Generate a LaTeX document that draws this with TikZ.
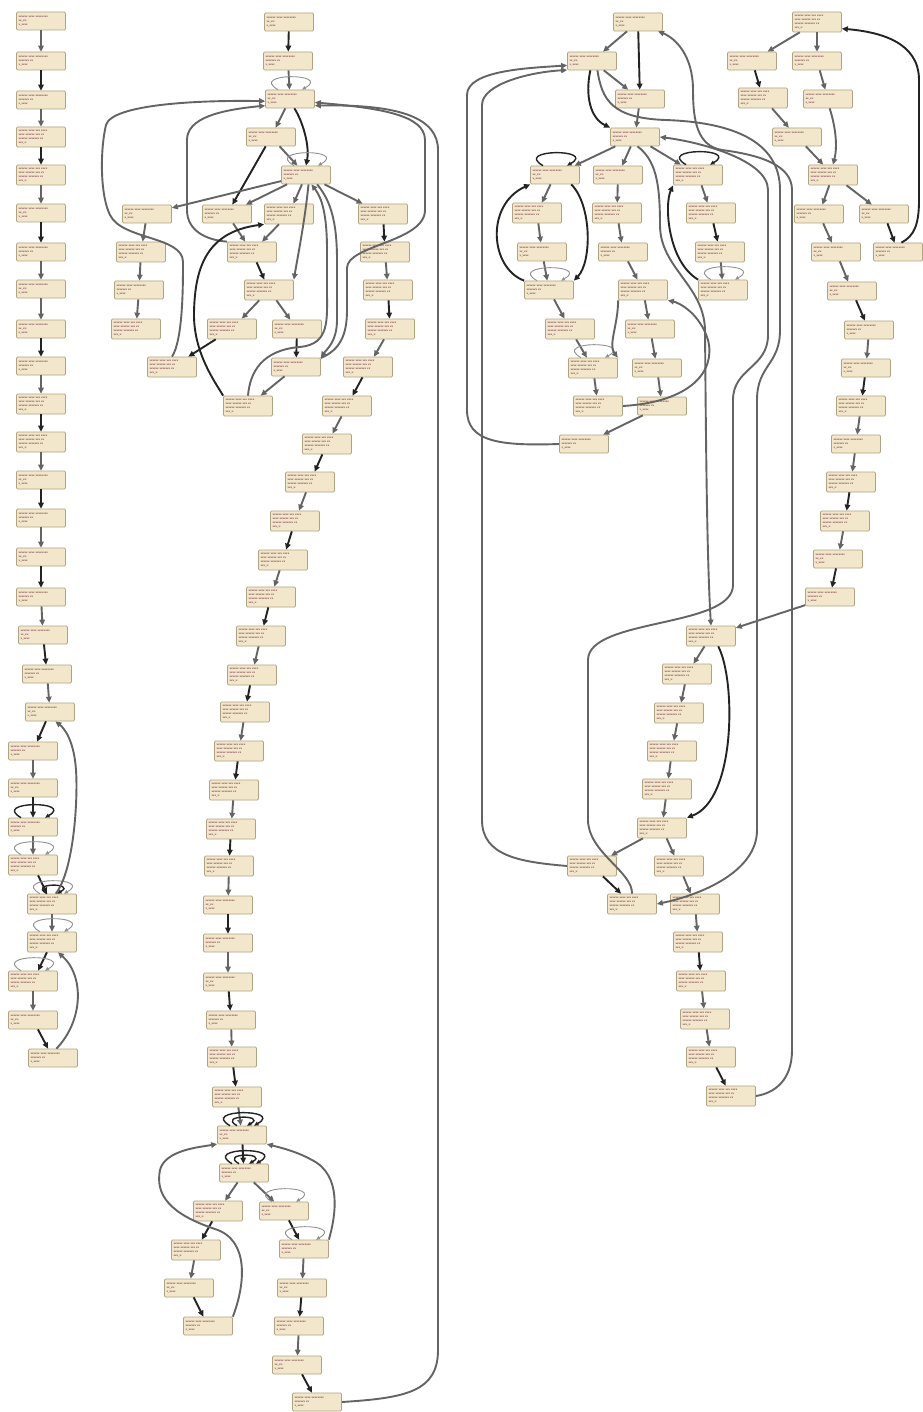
\documentclass[tikz,border=0pt]{standalone}
\usetikzlibrary{arrows.meta}
\definecolor{nfill}{RGB}{242,231,202}
\definecolor{ndraw}{RGB}{175,163,130}
\definecolor{ntxt}{RGB}{95,18,48}
\definecolor{ekc}{RGB}{35,35,35}
\definecolor{egc}{RGB}{100,100,100}
\definecolor{elc}{RGB}{145,145,145}
\newcommand\txa{\textbf{xxxxxx xxxx xxxxxxxx}\\xx\_xx:\\x\_xxxx}
\newcommand\txb{\textbf{xxxxxx xxxx xxxxxxxx}\\xxxxxxx xx\\x\_xxxx}
\newcommand\txc{\textbf{xxxxxx xxxx xxx xxxx}\\xxxx xxxxxx xxx xx\\xxxxxx xxxxxxx xx\\xxx\_x:}
\tikzset{
 blk/.style={draw=ndraw, fill=nfill, rounded corners=1.2pt, line width=0.7pt, minimum height=18pt, text width=45pt, inner xsep=2pt, inner ysep=1pt, align=left, text=ntxt, font=\fontsize{2.9}{3.9}\selectfont\ttfamily\bfseries},
 blkq/.style={blk, minimum height=20pt},
 ek/.style={draw=ekc, line width=1.9pt, -{Triangle[length=6pt,width=5.5pt]}},
 eg/.style={draw=egc, line width=1.9pt, -{Triangle[length=6pt,width=5.5pt]}},
 lpk/.style={draw=ekc, line width=1.4pt, -{Triangle[length=4.5pt,width=4pt]}},
 lpg/.style={draw=elc, line width=0.9pt, -{Triangle[length=4pt,width=3.5pt]}},
}
\newcommand\lpp[2]{\draw[#1] ([xshift=-12pt]#2.north) .. controls +(-30,-17) and +(30,-17) .. ([xshift=12pt]#2.north);}
\newcommand\lps[2]{\draw[#1] ([xshift=-5pt]#2.north) .. controls +(-20,-11) and +(20,-11) .. ([xshift=5pt]#2.north);}
\begin{document}
\begin{tikzpicture}[x=1pt,y=-1pt]
\fill[white] (0,0) rectangle (922,1412);
\useasboundingbox (0,0) rectangle (922,1412);
% ---------------- column 1
\node[blk] (c1) at (41,21) {\txa};
\node[blk] (c2) at (41,61) {\txb};
\node[blk] (c3) at (41,100) {\txb};
\node[blkq] (c4) at (41,137) {\txc};
\node[blkq] (c5) at (41,175) {\txc};
\node[blk] (c6) at (41,213) {\txa};
\node[blk] (c7) at (41,252) {\txb};
\node[blk] (c8) at (41,289) {\txa};
\node[blk] (c9) at (41,329) {\txa};
\node[blk] (c10) at (41,366) {\txb};
\node[blkq] (c11) at (41,404) {\txc};
\node[blkq] (c12) at (41,442) {\txc};
\node[blk] (c13) at (41,480) {\txa};
\node[blk] (c14) at (41,518) {\txb};
\node[blk] (c15) at (41,557) {\txa};
\node[blk] (c16) at (41,597) {\txb};
\node[blk] (c17) at (43,635) {\txa};
\node[blk] (c18) at (47,674) {\txb};
\node[blk] (c19) at (50,712) {\txa};
\node[blk] (c20) at (33,751) {\txb};
\node[blk] (c21) at (33,788) {\txa};
\node[blk] (c22) at (33,827) {\txb};
\node[blkq] (c23) at (33,865) {\txc};
\node[blkq] (c24) at (52,904) {\txc};
\node[blkq] (c25) at (52,942) {\txc};
\node[blkq] (c26) at (33,981) {\txc};
\node[blk] (c27) at (33,1020) {\txa};
\node[blk] (c28) at (53,1058) {\txb};
\draw[eg] (c1) -- (c2); \draw[ek] (c2) -- (c3); \draw[eg] (c3) -- (c4);
\draw[ek] (c4) -- (c5); \draw[eg] (c5) -- (c6); \draw[ek] (c6) -- (c7);
\draw[eg] (c7) -- (c8); \draw[eg] (c8) -- (c9); \draw[ek] (c9) -- (c10);
\draw[eg] (c10) -- (c11); \draw[ek] (c11) -- (c12); \draw[eg] (c12) -- (c13);
\draw[ek] (c13) -- (c14); \draw[eg] (c14) -- (c15); \draw[ek] (c15) -- (c16);
\draw[eg] (c16) -- (c17); \draw[ek] (c17) -- (c18); \draw[eg] (c18) -- (c19);
\draw[ek] (c19) -- (c20); \draw[eg] (c20) -- (c21); \draw[ek] (c21) -- (c22);
\draw[eg] (c22) -- (c23); \draw[ek] (c23) -- (c24); \draw[eg] (c24) -- (c25);
\draw[ek] (c25) -- (c26); \draw[eg] (c26) -- (c27); \draw[ek] (c27) -- (c28);
\lpp{lpk}{c22} \lpp{lpg}{c23} \lpp{lpg}{c24} \lps{lpk}{c24} \lpp{lpg}{c25} \lpp{lpg}{c26}
\draw[eg] (c24.70) .. controls (74,870) and (78,800) .. (76,770) .. controls (74,740) and (64,728) .. (c19.-60);
\draw[eg] (c28.70) .. controls (84,1020) and (84,975) .. (c25.-60);
% ---------------- column 2 top
\node[blk] (A1) at (289,22) {\txa};
\node[blk] (A2) at (288,61) {\txb};
\node[blk] (A3) at (290,99) {\txa};
\node[blk] (A4) at (271,137) {\txa};
\node[blk] (A5) at (306,175) {\txb};
\node[blk] (B1) at (147,214) {\txa};
\node[blk] (B2) at (227,214) {\txb};
\node[blkq] (B3) at (289,214) {\txc};
\node[blkq] (B4) at (383,214) {\txc};
\node[blkq] (C1) at (141,252) {\txc};
\node[blkq] (C2) at (252,252) {\txc};
\node[blkq] (C4) at (385,252) {\txc};
\node[blk] (D1) at (139,290) {\txb};
\node[blkq] (D2) at (269,290) {\txc};
\node[blkq] (D4) at (388,290) {\txc};
\node[blkq] (E1) at (136,329) {\txc};
\node[blkq] (E2) at (232,329) {\txc};
\node[blk] (E3) at (297,329) {\txa};
\node[blkq] (E4) at (390,329) {\txc};
\node[blkq] (F1) at (172,367) {\txc};
\node[blk] (F3) at (296,367) {\txb};
\node[blkq] (F4) at (368,367) {\txc};
\node[blkq] (G2) at (248,406) {\txc};
\node[blkq] (G4) at (347,406) {\txc};
\draw[ek] (A1) -- (A2); \draw[eg] (A2) -- (A3); \lpp{lpg}{A3}
\draw[eg] (A3) -- (A4);
\draw[ek] (A3.-65) .. controls (302,120) and (310,145) .. (A5.north);
\draw[eg] (A4) -- (A5); \lpp{lpg}{A5}
\draw[ek] (A4) -- (B2);
\draw[eg] (A5) -- (B1); \draw[eg] (A5) -- (B2); \draw[eg] (A5) -- (B3); \draw[eg] (A5) -- (B4);
\draw[eg] (A5.-75) .. controls (305,220) and (298,255) .. (D2.north east);
\draw[eg] (B1) -- (C1); \draw[eg] (C1) -- (D1); \draw[eg] (D1) -- (E1);
\draw[eg] (B2) -- (C2); \draw[eg] (B3) -- (C2); \draw[ek] (C2) -- (D2);
\draw[eg] (D2) -- (E2); \draw[eg] (D2) -- (E3);
\draw[ek] (E2) -- (F1); \draw[ek] (E3) -- (F3); \draw[eg] (F3) -- (G2);
\draw[ek] (B4) -- (C4); \draw[eg] (C4) -- (D4); \draw[ek] (D4) -- (E4); \draw[eg] (E4) -- (F4); \draw[ek] (F4) -- (G4);
\draw[eg] (F1.north) .. controls (183,340) and (183,285) .. (183,262) .. controls (183,236) and (122,240) .. (110,215) .. controls (100,195) and (100,150) .. (106,125) .. controls (112,104) and (200,100) .. (A3.185);
\draw[eg] (C2.north west) .. controls (205,240) and (187,230) .. (187,210) -- (187,140) .. controls (187,118) and (220,110) .. (A3.195);
\draw[ek] (G2.north west) .. controls (215,382) and (193,352) .. (194,312) .. controls (195,270) and (205,232) .. (B3.south west);
\draw[eg] (G2.north) .. controls (250,372) and (262,350) .. (300,347) .. controls (330,344) and (327,320) .. (327,290) -- (327,250) .. controls (327,215) and (322,198) .. (A5.-60);
\draw[eg] (A5.-40) .. controls (330,200) and (337,220) .. (337,260) -- (337,320) .. controls (337,342) and (326,350) .. (F3.north east);
\draw[eg] (F3.20) .. controls (340,350) and (347,335) .. (347,310) -- (347,268) .. controls (347,245) and (425,242) .. (425,210) -- (425,140) .. controls (425,115) and (380,108) .. (A3.-8);
% ---------------- column 2 chain
\node[blkq] (k1) at (327,444) {\txc};
\node[blkq] (k2) at (310,482) {\txc};
\node[blkq] (k3) at (295,521) {\txc};
\node[blkq] (k4) at (283,560) {\txc};
\node[blkq] (k5) at (271,597) {\txc};
\node[blkq] (k6) at (261,636) {\txc};
\node[blkq] (k7) at (252,675) {\txc};
\node[blkq] (k8) at (245,712) {\txc};
\node[blkq] (k9) at (239,751) {\txc};
\node[blkq] (k10) at (234,790) {\txc};
\node[blkq] (k11) at (231,829) {\txc};
\node[blkq] (k12) at (229,866) {\txc};
\node[blk] (k13) at (228,905) {\txa};
\node[blk] (k14) at (228,943) {\txb};
\node[blk] (k15) at (228,982) {\txa};
\node[blk] (k16) at (231,1020) {\txb};
\node[blkq] (k17) at (232,1057) {\txc};
\node[blkq] (k18) at (237,1097) {\txc};
\node[blk] (Y1) at (242,1135) {\txa};
\node[blk] (Y2) at (244,1173) {\txb};
\node[blkq] (Z1) at (218,1211) {\txc};
\node[blk] (Z2) at (284,1211) {\txa};
\node[blkq] (Z3) at (196,1250) {\txc};
\node[blk] (Z4) at (304,1249) {\txb};
\node[blk] (Z5) at (189,1288) {\txa};
\node[blk] (Z6) at (302,1288) {\txa};
\node[blk] (Z7) at (208,1326) {\txb};
\node[blk] (Z8) at (299,1326) {\txb};
\node[blk] (Z9) at (297,1365) {\txa};
\node[blk] (Z10) at (317,1402) {\txb};
\draw[eg] (G4) -- (k1); \draw[ek] (k1) -- (k2); \draw[eg] (k2) -- (k3); \draw[ek] (k3) -- (k4);
\draw[eg] (k4) -- (k5); \draw[ek] (k5) -- (k6); \draw[eg] (k6) -- (k7); \draw[ek] (k7) -- (k8);
\draw[eg] (k8) -- (k9); \draw[ek] (k9) -- (k10); \draw[eg] (k10) -- (k11); \draw[ek] (k11) -- (k12);
\draw[eg] (k12) -- (k13); \draw[ek] (k13) -- (k14); \draw[eg] (k14) -- (k15); \draw[ek] (k15) -- (k16);
\draw[eg] (k16) -- (k17); \draw[ek] (k17) -- (k18); \draw[eg] (k18) -- (Y1); \draw[ek] (Y1) -- (Y2);
\lpp{lpk}{Y1} \lps{lpk}{Y1} \lpp{lpk}{Y2} \lps{lpk}{Y2}
\draw[eg] (Y2) -- (Z1); \draw[eg] (Y2) -- (Z2); \lpp{lpg}{Z2}
\draw[ek] (Z1) -- (Z3); \draw[ek] (Z2) -- (Z4); \lpp{lpg}{Z4}
\draw[eg] (Z3) -- (Z5); \draw[eg] (Z4) -- (Z6);
\draw[ek] (Z5) -- (Z7); \draw[ek] (Z6) -- (Z8); \draw[eg] (Z8) -- (Z9); \draw[ek] (Z9) -- (Z10);
\draw[eg] (Z7.north east) .. controls (245,1285) and (250,1240) .. (215,1229) .. controls (170,1214) and (155,1195) .. (160,1170) .. controls (165,1150) and (200,1147) .. (Y1.-160);
\draw[eg] (Z4.north east) .. controls (336,1215) and (342,1175) .. (312,1160) .. controls (296,1151) and (278,1147) .. (Y1.-20);
\draw[eg] (Z10.east) .. controls (405,1398) and (438,1392) .. (438,1350) -- (438,150) .. controls (438,118) and (400,104) .. (A3.-15);
% ---------------- column 3
\node[blk] (H1) at (638,22) {\txa};
\node[blk] (H2) at (592,61) {\txa};
\node[blk] (H3) at (640,99) {\txb};
\node[blk] (H4) at (635,137) {\txb};
\node[blk] (I1) at (555,175) {\txa};
\node[blk] (I2) at (618,175) {\txa};
\node[blkq] (I3) at (698,175) {\txc};
\node[blkq] (J1) at (537,213) {\txc};
\node[blkq] (J2) at (617,213) {\txc};
\node[blkq] (J3) at (711,213) {\txc};
\node[blk] (K1) at (542,252) {\txa};
\node[blk] (K2) at (623,252) {\txb};
\node[blkq] (K3) at (720,252) {\txc};
\node[blk] (L1) at (549,290) {\txb};
\node[blkq] (L2) at (643,290) {\txc};
\node[blkq] (L3) at (723,290) {\txc};
\node[blkq] (M1) at (570,329) {\txc};
\node[blk] (M2) at (650,329) {\txa};
\node[blkq] (N1) at (593,368) {\txc};
\node[blk] (N2) at (657,368) {\txa};
\node[blkq] (O1) at (598,406) {\txc};
\node[blk] (O2) at (662,406) {\txb};
\node[blk] (P) at (584,444) {\txb};
\draw[eg] (H1) -- (H2); \draw[ek] (H1) -- (H3); \draw[eg] (H2) -- (H3); \draw[eg] (H3) -- (H4);
\draw[ek] (H2.-100) .. controls (585,95) and (590,118) .. (H4.north west);
\draw[eg] (H4) -- (I1); \draw[eg] (H4) -- (I2); \draw[eg] (H4) -- (I3);
\lpp{lpk}{I1} \lpp{lpk}{I3}
\draw[eg] (I1) -- (J1); \draw[eg] (J1) -- (K1); \draw[eg] (K1) -- (L1);
\draw[ek] (I1.-30) .. controls (592,205) and (592,262) .. (L1.north east);
\draw[ek] (L1.north west) .. controls (490,268) and (485,205) .. (I1.south west);
\lpp{lpg}{L1}
\draw[eg] (L1) -- (M1); \draw[eg] (M1) -- (N1); \lpp{lpg}{N1} \draw[eg] (N1) -- (O1);
\draw[eg] (I2) -- (J2); \draw[eg] (J2) -- (K2); \draw[eg] (K2) -- (L2);
\draw[eg] (L2.south west) .. controls (618,325) and (608,345) .. (N1.north east);
\draw[eg] (L2) -- (M2); \draw[eg] (M2) -- (N2); \draw[eg] (N2) -- (O2); \draw[eg] (O2) -- (P);
\draw[eg] (O1.east) .. controls (690,402) and (716,372) .. (708,340) .. controls (700,314) and (680,303) .. (L2.south east);
\draw[eg] (I3) -- (J3); \draw[ek] (J3) -- (K3); \draw[eg] (K3) -- (L3); \lpp{lpg}{L3}
\draw[ek] (L3.north west) .. controls (668,262) and (664,205) .. (I3.south west);
% column 3 lower
\node[blkq] (V1) at (711,636) {\txc};
\node[blkq] (V2) at (687,674) {\txc};
\node[blkq] (V3) at (679,713) {\txc};
\node[blkq] (V4) at (672,751) {\txc};
\node[blkq] (V5) at (667,789) {\txc};
\node[blkq] (V6) at (662,828) {\txc};
\node[blkq] (W1) at (592,866) {\txc};
\node[blkq] (W2) at (679,866) {\txc};
\node[blkq] (X1) at (632,904) {\txc};
\node[blkq] (X2) at (695,904) {\txc};
\node[blkq] (X3) at (698,942) {\txc};
\node[blkq] (X4) at (701,981) {\txc};
\node[blkq] (X5) at (705,1019) {\txc};
\node[blkq] (X6) at (711,1057) {\txc};
\node[blkq] (X7) at (731,1096) {\txc};
\draw[eg] (V1) -- (V2); \draw[eg] (V2) -- (V3); \draw[eg] (V3) -- (V4); \draw[eg] (V4) -- (V5); \draw[eg] (V5) -- (V6);
\draw[ek] (V1.-55) .. controls (736,680) and (736,800) .. (V6.north east);
\draw[eg] (V6) -- (W1); \draw[eg] (V6) -- (W2);
\draw[ek] (W1) -- (X1); \draw[eg] (W2) -- (X2); \draw[eg] (X2) -- (X3); \draw[ek] (X3) -- (X4);
\draw[eg] (X4) -- (X5); \draw[eg] (X5) -- (X6); \draw[ek] (X6) -- (X7);
% long curves column 3
\draw[eg] (P.west) .. controls (500,446) and (467,442) .. (467,410) -- (467,95) .. controls (467,70) and (530,68) .. (H2.190);
\draw[eg] (W1.west) .. controls (520,862) and (482,856) .. (482,820) -- (482,105) .. controls (482,84) and (530,72) .. (H2.200);
\draw[eg] (H4.-75) .. controls (655,160) and (660,180) .. (660,225) .. controls (660,268) and (704,285) .. (705,330) .. controls (706,450) and (707,560) .. (V1.north);
\draw[eg] (H2.-60) .. controls (602,100) and (612,118) .. (665,120) .. controls (730,122) and (780,140) .. (780,190) -- (780,330) .. controls (780,365) and (757,365) .. (757,400) -- (757,830) .. controls (757,872) and (700,895) .. (X1.east);
\draw[eg] (X1.north) .. controls (633,872) and (588,852) .. (588,820) -- (588,660) .. controls (588,618) and (733,628) .. (733,585) -- (733,400) .. controls (733,368) and (768,368) .. (768,335) -- (768,190) .. controls (768,160) and (700,142) .. (H4.east);
\draw[eg] (X7.east) .. controls (775,1093) and (792,1080) .. (792,1050) -- (792,190) .. controls (792,165) and (760,155) .. (722,150) .. controls (697,146) and (693,120) .. (693,90) .. controls (693,55) and (675,38) .. (H1.-25);
% ---------------- column 4
\node[blkq] (R1) at (817,22) {\txc};
\node[blk] (Q2) at (752,61) {\txa};
\node[blk] (R3) at (817,61) {\txb};
\node[blkq] (Q4) at (763,98) {\txc};
\node[blk] (R4) at (828,99) {\txa};
\node[blk] (Q5) at (797,137) {\txa};
\node[blkq] (R5) at (833,175) {\txc};
\node[blk] (S1) at (819,214) {\txb};
\node[blk] (S2) at (884,214) {\txa};
\node[blk] (T1) at (836,252) {\txa};
\node[blk] (T2) at (898,252) {\txb};
\node[blk] (U1) at (852,291) {\txa};
\node[blk] (U2) at (869,330) {\txb};
\node[blk] (U3) at (866,368) {\txa};
\node[blkq] (U4) at (861,406) {\txc};
\node[blk] (U5) at (856,444) {\txb};
\node[blkq] (U6) at (851,482) {\txc};
\node[blkq] (U7) at (845,521) {\txc};
\node[blk] (U8) at (838,559) {\txa};
\node[blk] (U9) at (830,597) {\txb};
\draw[eg] (R1) -- (Q2); \draw[eg] (R1) -- (R3);
\draw[ek] (Q2) -- (Q4); \draw[eg] (R3) -- (R4); \draw[eg] (Q4) -- (Q5);
\draw[eg] (Q5) -- (R5);
\draw[eg] (R4.-80) .. controls (835,125) and (838,145) .. (R5.north);
\draw[eg] (R5) -- (S1); \draw[eg] (R5) -- (S2);
\draw[eg] (S1) -- (T1); \draw[ek] (S2) -- (T2);
\draw[eg] (T1) -- (U1); \draw[ek] (U1) -- (U2); \draw[eg] (U2) -- (U3); \draw[ek] (U3) -- (U4);
\draw[eg] (U4) -- (U5); \draw[eg] (U5) -- (U6); \draw[ek] (U6) -- (U7); \draw[eg] (U7) -- (U8); \draw[ek] (U8) -- (U9);
\draw[eg] (U9) -- (V1);
\draw[ek] (T2.70) .. controls (914,236) and (919,225) .. (919,200) -- (919,80) .. controls (919,42) and (880,32) .. (R1.-15);
\end{tikzpicture}
\end{document}
